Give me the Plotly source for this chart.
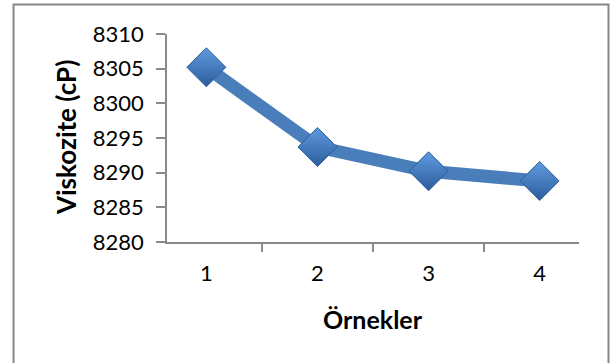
import plotly.graph_objects as go

# Samples and their measured viscosity (cP)
samples = ["1", "2", "3", "4"]
viscosity = [8305.2, 8293.7, 8290.2, 8288.8]

y_ticks = [8280, 8285, 8290, 8295, 8300, 8305, 8310]

AXIS_GRAY = "#8a8a8a"
LINE_BLUE = "#4A7EBB"

fig = go.Figure()
fig.add_trace(go.Scatter(
    x=samples,
    y=viscosity,
    mode="lines+markers",
    line=dict(color=LINE_BLUE, width=13),
    marker=dict(
        symbol="diamond",
        size=30,
        color="#5F9BE0",
        gradient=dict(type="vertical", color="#2C5D9C"),
        line=dict(color="#2F5F98", width=1),
    ),
    showlegend=False,
    hoverinfo="x+y",
))

fig.update_layout(
    width=610,
    height=363,
    margin=dict(l=167, r=31, t=34, b=121),
    paper_bgcolor="white",
    plot_bgcolor="white",
    font=dict(family="Lato", size=22, color="black"),
    xaxis=dict(
        type="category",
        tickson="boundaries",
        ticks="outside",
        ticklen=8,
        tickwidth=1.5,
        tickcolor=AXIS_GRAY,
        showline=True,
        linecolor=AXIS_GRAY,
        linewidth=1.5,
        showgrid=False,
        zeroline=False,
        ticklabelstandoff=11,
        tickfont=dict(family="Lato", size=22, color="black"),
    ),
    yaxis=dict(
        range=[8280, 8310],
        tickvals=y_ticks,
        ticktext=[str(v) for v in y_ticks],
        ticks="outside",
        ticklen=9,
        tickwidth=1.5,
        tickcolor=AXIS_GRAY,
        showline=True,
        linecolor=AXIS_GRAY,
        linewidth=1.5,
        showgrid=False,
        zeroline=False,
        ticklabelstandoff=8,
        tickfont=dict(family="Lato", size=22, color="black"),
    ),
    annotations=[
        dict(
            text="Viskozite (cP)",
            xref="paper", yref="paper",
            x=-0.245, y=0.5,
            xanchor="center", yanchor="middle",
            textangle=-90,
            showarrow=False,
            font=dict(family="Lato", size=26, color="black", weight="bold"),
        ),
        dict(
            text="Örnekler",
            xref="paper", yref="paper",
            x=0.5, y=-0.37,
            xanchor="center", yanchor="middle",
            showarrow=False,
            font=dict(family="Lato", size=25, color="black", weight="bold"),
        ),
    ],
    shapes=[
        # chart-area frame
        dict(
            type="rect",
            xref="paper", yref="paper",
            x0=-0.3725, x1=1.0716,
            y0=-0.65, y1=1.1420,
            line=dict(color="#878787", width=2),
            fillcolor="rgba(0,0,0,0)",
            layer="below",
        ),
    ],
)

fig.write_html("out.html")
